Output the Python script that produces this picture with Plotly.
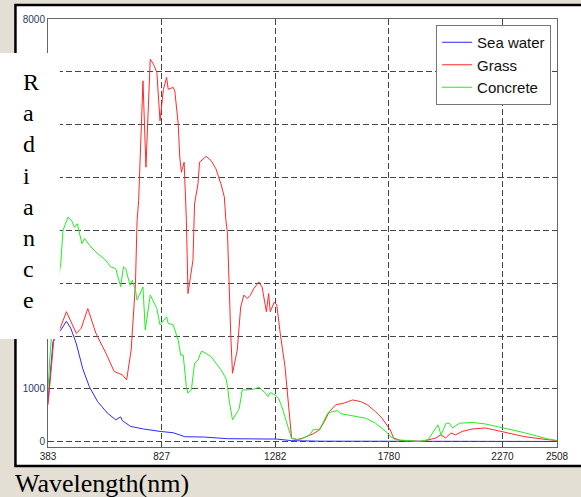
import plotly.graph_objects as go

# ---- data (x = band index, labelled by wavelength in nm) ----
tick_bands = [0, 50, 100, 150, 200, 224]
tick_labels = ["383", "827", "1282", "1780", "2270", "2508"]

sea_band = [0, 1, 2.2, 4, 5.6, 8.1, 10, 12.5, 15.3, 18.2, 21.8, 26.2, 29.8, 32, 32.7, 36.3,
            42.1, 49.3, 55.1, 60.2, 68.9, 79, 87.7, 100.7, 107.2, 120, 160, 224]
sea_val = [760, 1300, 1900, 2050, 2110, 2280, 2150, 1850, 1380, 1040, 760, 540, 415, 470, 400, 290,
           240, 195, 170, 95, 88, 57, 50, 50, 20, 10, 8, 5]

grass_band = [0, 1, 2.5, 5.6, 8.1, 12.5, 14.6, 17.5, 21.1, 25.5, 29.1, 32.7, 34.6, 36.6, 38.5, 39.2,
              39.9, 41.8, 43.1, 45, 46.4, 47.9, 49.3, 50.8, 52.2, 52.9, 55.1, 55.8, 57.3, 58, 58.7,
              59.9, 60.9, 61.6, 63.8, 64.5, 66, 66.7, 68.2, 69.6, 71.8, 73.9, 76.1, 77.6, 78.3, 79,
              80.4, 81.2, 83.3, 84.8, 86.2, 87.7, 89.1, 90.6, 92.8, 94.2, 96.1, 97.1, 97.8, 99.6,
              100.7, 102.2, 104.3, 105.8, 107.2, 109.4, 112.3, 116.7, 119.5, 121.7, 123.8, 126.7,
              130.3, 134, 137.6, 140.5, 144.1, 147, 149.2, 150.6, 152.1, 155, 165, 166.4, 170.7,
              172.9, 175, 177.3, 179.4, 182.3, 186.6, 192.5, 196.2, 202, 209.2, 216.4, 222.2, 224]
grass_val = [700, 1200, 1900, 2175, 2460, 2050, 2145, 2520, 2050, 1675, 1330, 1265, 1170, 1735, 3000, 4190,
             4570, 6830, 5195, 7240, 7145, 6990, 6075, 6670, 6895, 6670, 6705, 6640, 6015, 5385, 5100,
             5290, 4190, 2805, 3435, 4500, 4880, 5290, 5350, 5400, 5320, 5165, 4880, 4630, 4190, 3940,
             2050, 1295, 1735, 2550, 2775, 2710, 2775, 2900, 3025, 2930, 2460, 2805, 2460, 2645,
             2585, 2050, 1420, 790, 70, 38, 70, 150, 225, 385, 570, 700,
             730, 790, 760, 700, 570, 445, 320, 225, 70, 25, 5, 25, 70,
             130, 70, 165, 130, 195, 240, 260, 225, 165, 100, 57, 25, 20]

concrete_band = [0, 1, 2.5, 5.6, 6.6, 8.8, 10.3, 11.7, 12.9, 14.9, 16.1, 18.9, 21.8, 24.7, 27.6, 29.8,
                 32, 33.2, 34.2, 36.1, 37.1, 38.5, 39.2, 40.6, 41.8, 42.8, 45, 47.9, 49.3, 52.2,
                 52.9, 55.1, 57.3, 58.4, 59.5, 60.9, 61.6, 63.1, 64.5, 66, 67.4, 68.2, 70.3, 71.8,
                 73.4, 76.1, 78.3, 79, 79.7, 81.2, 84.1, 85.5, 87.7, 90.6, 92.8, 94.2, 95.7, 96.8,
                 97.8, 99.9, 101.4, 102.9, 104.3, 105.8, 107.2, 110.8, 115.2, 116.7, 119.5, 120.9,
                 123.1, 125.3, 127.5, 128.9, 134, 139.8, 144.1, 147, 149.2, 150.6, 152.8, 157.1,
                 162.9, 167.3, 168.7, 171.6, 173, 175.2, 176.6, 178.1, 181, 186.8, 192.6, 197.7,
                 203.5, 209.2, 215, 219.4, 223.6, 224]
concrete_val = [1000, 1700, 2500, 3370, 4000, 4250, 4190, 4060, 4125, 3750, 3845, 3685, 3560, 3465, 3310, 3275,
                2930, 3310, 3275, 2960, 3055, 2870, 2680, 2800, 2930, 2115, 2775, 2520, 2210, 2365,
                2240, 2210, 1925, 1640, 1640, 1045, 920, 980, 1485, 1545, 1705, 1705, 1640, 1610,
                1515, 1360, 1200, 1045, 790, 415, 620, 980, 980, 995, 1030, 980, 920, 855,
                930, 885, 825, 665, 475, 260, 60, 40, 130, 225, 240, 350,
                540, 570, 590, 530, 490, 445, 350, 260, 175, 100, 38, 25,
                5, 38, 130, 320, 130, 350, 350, 260, 350, 365, 335, 290,
                225, 175, 110, 57, 25, 25]

W, H = 581, 497
L, R, T, B = 48, 17, 19, 50
pw, ph = W - L - R, H - T - B


def px(x):
    return (x - L) / pw


def py(y):
    return (H - B - y) / ph


fig = go.Figure()
fig.add_trace(go.Scatter(x=sea_band, y=sea_val, mode="lines", name="Sea water",
                         line=dict(color="#2a2aff", width=1)))
fig.add_trace(go.Scatter(x=grass_band, y=grass_val, mode="lines", name="Grass",
                         line=dict(color="#ff2a2a", width=1)))
fig.add_trace(go.Scatter(x=concrete_band, y=concrete_val, mode="lines", name="Concrete",
                         line=dict(color="#22ee22", width=1)))

ytick_vals = list(range(0, 8001, 1000))
ytick_text = ["0", "1000", "", "", "", "", "", "", "8000"]

fig.update_layout(
    width=W, height=H,
    margin=dict(l=L, r=R, t=T, b=B, pad=0),
    paper_bgcolor="#e4dfd4",
    plot_bgcolor="white",
    font=dict(family="Arial, Liberation Sans", size=10, color="#222"),
    xaxis=dict(range=[0, 224], tickvals=tick_bands, ticktext=tick_labels,
               showgrid=True, gridcolor="#444", gridwidth=1, griddash="6px,3px",
               zeroline=False, showline=True, linecolor="#666", linewidth=1, mirror=True,
               ticks="", tickfont=dict(size=10, color="#222")),
    yaxis=dict(range=[-100, 8000], tickvals=ytick_vals, ticktext=ytick_text,
               showgrid=True, gridcolor="#444", gridwidth=1, griddash="6px,3px",
               zeroline=False, showline=True, linecolor="#666", linewidth=1, mirror=True,
               ticks="", tickfont=dict(size=10, color="#2b3a67")),
    legend=dict(x=px(558), y=py(25), xanchor="right", yanchor="top",
                bgcolor="white", bordercolor="#777", borderwidth=1,
                font=dict(family="Arial, Liberation Sans", size=15, color="#111"),
                tracegroupgap=0, itemwidth=30),
    showlegend=True,
    shapes=[
        dict(type="rect", xref="paper", yref="paper",
             x0=px(15), x1=px(600), y0=py(466), y1=py(5),
             fillcolor="white", line=dict(color="black", width=2.5), layer="below"),
        dict(type="rect", xref="paper", yref="paper",
             x0=px(-5), x1=px(60), y0=py(339), y1=py(53),
             fillcolor="white", line=dict(width=0), layer="above"),
    ],
    annotations=[
        dict(text="R<br>a<br>d<br>i<br>a<br>n<br>c<br>e", xref="paper", yref="paper",
             x=px(21), y=py(191), xanchor="left", yanchor="middle", align="left",
             showarrow=False, font=dict(family="Liberation Serif, Times New Roman", size=24, color="black")),
        dict(text="Wavelength(nm)", xref="paper", yref="paper",
             x=px(13), y=py(500), xanchor="left", yanchor="bottom",
             showarrow=False, font=dict(family="Liberation Serif, Times New Roman", size=26, color="black")),
    ],
)

fig.write_html("out.html")
